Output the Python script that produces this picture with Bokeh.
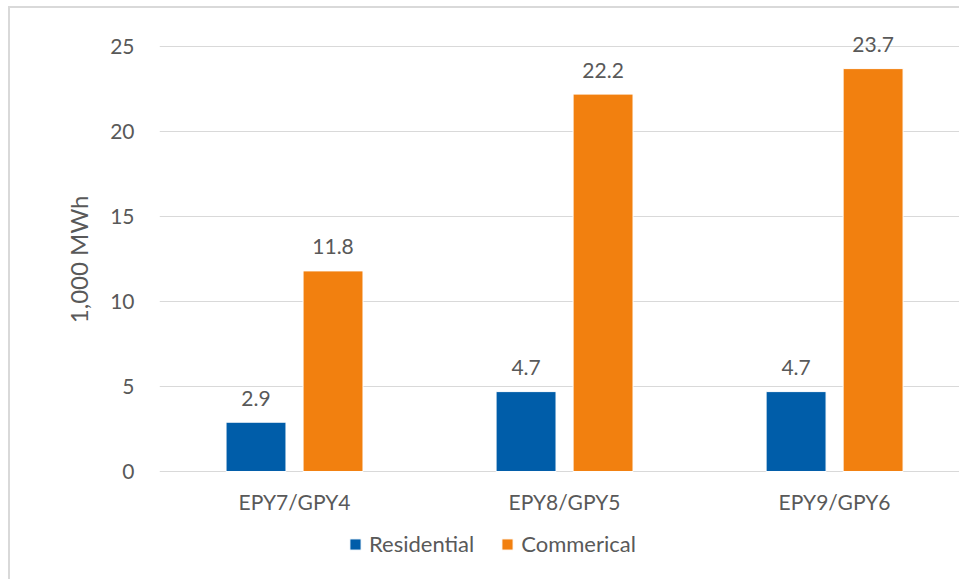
from bokeh.plotting import figure
from bokeh.models import Range1d, FixedTicker, ColumnDataSource, Legend, LegendItem, Title
from bokeh.core.properties import value
from bokeh.transform import dodge
from bokeh.embed import file_html
from bokeh.resources import INLINE

categories = ["EPY7/GPY4", "EPY8/GPY5", "EPY9/GPY6"]
residential = [2.9, 4.7, 4.7]
commercial = [11.8, 22.2, 23.7]
series_names = ["Residential", "Commerical"]
y_ticks = [0, 5, 10, 15, 20, 25]

FONT = "Lato"
TXT = "#595959"
BLUE = "#005DA9"
ORANGE = "#F2800F"

xpos = [i + 0.5 for i in range(len(categories))]
src = ColumnDataSource(dict(
    x=xpos, cat=categories, res=residential, com=commercial,
    res_lbl=["%.1f" % v for v in residential],
    com_lbl=["%.1f" % v for v in commercial],
))

p = figure(width=951, height=573, x_range=Range1d(0, 2.970), y_range=Range1d(-6.4706, 27.235),
           output_backend="svg", toolbar_location=None,
           min_border_left=149, min_border_right=0, min_border_top=0, min_border_bottom=0)
p.styles = {"margin-left": "8px", "margin-top": "6px",
            "border-left": "2px solid #D9D9D9", "border-top": "2px solid #D9D9D9"}
p.outline_line_color = None
p.background_fill_color = "white"
p.border_fill_color = "white"

off = 0.1426
bw = 0.222
r1 = p.vbar(x=dodge("x", -off), top="res", width=bw, source=src, fill_color=BLUE,
            line_color="white", line_width=1)
r2 = p.vbar(x=dodge("x", off), top="com", width=bw, source=src, fill_color=ORANGE,
            line_color="white", line_width=1)

for col, lbl, o in (("res", "res_lbl", -off), ("com", "com_lbl", off)):
    p.text(x=dodge("x", o), y=col, text=lbl, source=src, text_align="center",
           text_baseline="middle", y_offset=-24, text_font=value(FONT),
           text_font_size="21px", text_color=TXT)

# axes
p.xaxis.fixed_location = 0
p.xaxis.ticker = FixedTicker(ticks=xpos)
p.xaxis.major_label_overrides = {x: c for x, c in zip(xpos, categories)}
p.yaxis.ticker = FixedTicker(ticks=y_ticks)
for ax in (p.xaxis, p.yaxis):
    ax.axis_line_color = None
    ax.major_tick_line_color = None
    ax.minor_tick_line_color = None
    ax.major_label_text_font = FONT
    ax.major_label_text_font_size = "21px"
    ax.major_label_text_color = TXT
p.xaxis.major_label_standoff = 12
p.yaxis.major_label_standoff = 19

ytitle = Title(text="1,000 MWh", align="right", offset=187, vertical_align="middle",
               standoff=28, text_font=FONT, text_font_size="24px",
               text_font_style="normal", text_color=TXT)
p.add_layout(ytitle, "left")

p.xgrid.grid_line_color = None
p.ygrid.ticker = FixedTicker(ticks=y_ticks)
p.ygrid.grid_line_color = "#D9D9D9"
p.ygrid.grid_line_width = 1

legend = Legend(items=[LegendItem(label=series_names[0], renderers=[r1]),
                       LegendItem(label=series_names[1], renderers=[r2])],
                location=(189, 24), orientation="horizontal",
                glyph_width=14, glyph_height=14, label_standoff=7, spacing=26,
                padding=0, margin=0, border_line_color=None, background_fill_alpha=0,
                label_text_font=FONT, label_text_font_size="22px", label_text_color=TXT)
p.add_layout(legend, "center")

open("out.html", "w").write(file_html(p, INLINE))
